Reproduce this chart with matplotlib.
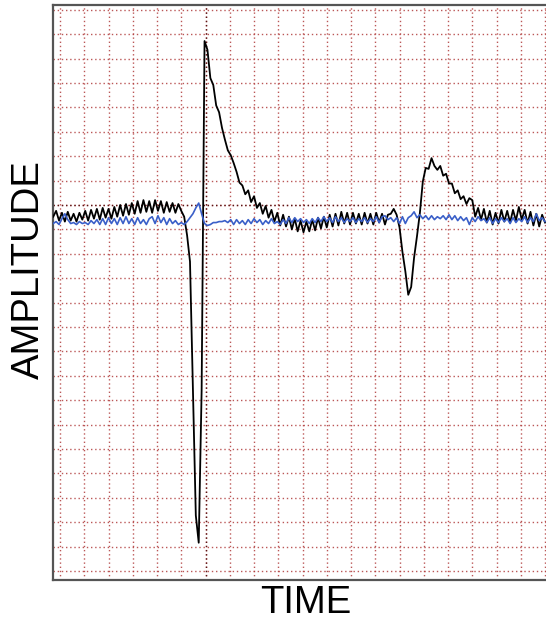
import numpy as np
import matplotlib
matplotlib.use("Agg")
import matplotlib.pyplot as plt
from matplotlib.ticker import MultipleLocator

# time base (ms), uniform sampling
t_start, t_step, n_samples = -7, 3, 170
time = t_start + t_step * np.arange(n_samples)

# black trace (amplitude, arbitrary units)
black = [
    -12, -6, -16, -8, -17, -7, -16, -9, -17, -8,
    -15, -6, -16, -5, -14, -4, -15, -3, -13, -4,
    -14, -2, -12, 0, -11, 1, -10, 2, -9, 4,
    -8, 5, -7, 4, -8, 5, -6, 4, -8, 3,
    -7, 2, -8, 1, -6, -12, -31, -58, -190, -318,
    -346, -190, 168, 159, 130, 123, 102, 95, 79, 67,
    56, 51, 43, 34, 23, 20, 11, 15, 3, 9,
    -3, 2, -9, -1, -13, -5, -17, -8, -21, -10,
    -22, -12, -25, -14, -27, -16, -28, -17, -27, -15,
    -26, -13, -24, -12, -23, -10, -22, -9, -21, -7,
    -19, -8, -20, -8, -19, -9, -20, -8, -19, -9,
    -20, -8, -18, -9, -20, -10, -9, -4, -10, -23,
    -48, -68, -92, -84, -54, -32, -8, 24, 38, 37,
    48, 40, 36, 40, 30, 32, 22, 22, 12, 15,
    6, 9, 1, 7, 5, -12, -3, -15, -4, -18,
    -6, -20, -8, -19, -5, -17, -6, -18, -5, -16,
    -2, -15, -5, -19, -7, -21, -9, -22, -10, -18,
]

# blue trace
blue = [
    -19, -17, -20, -14, -9, -15, -19, -18, -20, -17,
    -19, -18, -20, -16, -19, -15, -20, -14, -20, -13,
    -19, -14, -20, -13, -19, -12, -19, -14, -20, -13,
    -19, -15, -20, -14, -12, -19, -11, -18, -13, -20,
    -14, -19, -16, -20, -18, -20, -17, -13, -9, -3,
    2, -9, -19, -21, -20, -18, -18, -17, -17, -16,
    -18, -15, -20, -15, -19, -16, -20, -15, -19, -14,
    -18, -15, -20, -16, -19, -14, -19, -17, -20, -15,
    -19, -13, -18, -13, -17, -14, -18, -15, -19, -14,
    -18, -13, -17, -12, -17, -13, -18, -12, -17, -13,
    -18, -14, -17, -13, -18, -14, -17, -13, -18, -14,
    -17, -12, -18, -12, -11, -15, -13, -17, -13, -19,
    -12, -19, -13, -11, -7, -13, -10, -14, -11, -15,
    -11, -15, -12, -14, -11, -15, -10, -15, -11, -16,
    -12, -16, -13, -20, -13, -17, -12, -16, -14, -18,
    -13, -19, -14, -18, -13, -17, -14, -19, -13, -18,
    -14, -17, -12, -18, -13, -17, -9, -16, -13, -17,
]

grid_step = 25
ref_time = 150
ref_amp = 0

W, H = 546, 620
fig = plt.figure(figsize=(W / 100, H / 100), dpi=100)
ax = fig.add_axes([53 / W, (H - 580) / H, (559 - 53) / W, (580 - 5) / H])
ax.set_xlim(-7.22, 514.4)
ax.set_ylim(-384.2, 204.9)

grid_color = "#b03a3a"
ax.xaxis.set_major_locator(MultipleLocator(grid_step))
ax.yaxis.set_major_locator(MultipleLocator(grid_step))
ax.grid(True, color=grid_color, linestyle=(0, (1, 2)), linewidth=1.0, alpha=0.85)
ax.tick_params(length=0, labelbottom=False, labelleft=False)

ax.axhline(ref_amp, color="#5a1515", linestyle=(0, (1, 2)), linewidth=1.0, zorder=2)
ax.axvline(ref_time, color="#5a1515", linestyle=(0, (1, 2)), linewidth=1.0, zorder=2)

ax.plot(time, black, color="black", linewidth=1.3, zorder=3)
ax.plot(time, blue, color="#3a5fc8", linewidth=1.2, zorder=4)

for side in ["left", "bottom", "top"]:
    ax.spines[side].set_color("#555555")
    ax.spines[side].set_linewidth(1.6)
ax.spines["right"].set_visible(False)

fig.text(29 / W, 1 - 270 / H, "AMPLITUDE", rotation=90, ha="center", va="center",
         fontsize=27.5, family="Liberation Sans")
fig.text(306 / W, 1 - 603 / H, "TIME", ha="center", va="center",
         fontsize=27.5, family="Liberation Sans")

fig.savefig("out.png", dpi=100)
